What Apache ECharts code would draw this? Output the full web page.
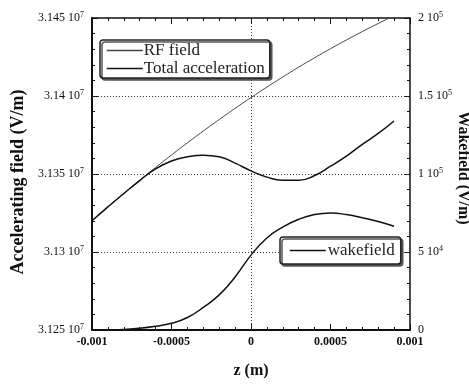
<!DOCTYPE html>
<html>
<head>
<meta charset="utf-8">
<script src="https://cdn.jsdelivr.net/npm/echarts@6/dist/echarts.min.js"></script>
<style>
  html, body { margin: 0; padding: 0; background: #fff; }
  #chart { width: 469px; height: 385px; }
</style>
</head>
<body>
<div id="chart"></div>
<script>
// z positions (m)
const zValues = [-0.001, -0.0009, -0.0008, -0.0007, -0.0006, -0.0005, -0.0004, -0.0003, -0.0002, -0.0001,
  0, 0.0001, 0.0002, 0.0003, 0.0004, 0.0005, 0.0006, 0.0007, 0.0008, 0.0009];

// accelerating field, V/m
const rfField = [3.13200e7, 3.13289e7, 3.13375e7, 3.13460e7, 3.13542e7, 3.13622e7, 3.13700e7, 3.13776e7, 3.13849e7, 3.13921e7,
  3.13990e7, 3.14057e7, 3.14122e7, 3.14185e7, 3.14245e7, 3.14303e7, 3.14359e7, 3.14413e7, 3.14465e7, 3.14515e7];
const totalAcceleration = [3.1320e7, 3.13289e7, 3.13375e7, 3.13458e7, 3.13533e7, 3.13583e7, 3.1361e7, 3.1362e7, 3.1361e7, 3.1357e7,
  3.1352e7, 3.1348e7, 3.1346e7, 3.1346e7, 3.1349e7, 3.1355e7, 3.13615e7, 3.1369e7, 3.1376e7, 3.1384e7];

// wakefield, V/m
const wakefield = [0, 100, 400, 1100, 2400, 4300, 8000, 14500, 22500, 34000,
  48000, 59000, 66000, 71000, 74000, 75000, 74000, 72000, 69500, 66500];

const xTickLabels = ["-0.001", "-0.0005", "0", "0.0005", "0.001"];
const leftTickLabels = [["3.125 10", "7"], ["3.13 10", "7"], ["3.135 10", "7"], ["3.14 10", "7"], ["3.145 10", "7"]];
const rightTickLabels = [["0", ""], ["5 10", "4"], ["1 10", "5"], ["1.5 10", "5"], ["2 10", "5"]];

const serif = "Liberation Serif";
const pair = (xs, ys) => xs.map((x, i) => [x, ys[i]]);

const chart = echarts.init(document.getElementById("chart"));

const sup = (lbl) => lbl[1] ? `{n|${lbl[0]}}{e|${lbl[1]}}` : `{n|${lbl[0]}}`;
const labelRich = {
  n: { fontFamily: serif, fontSize: 12, color: "#111" },
  e: { fontFamily: serif, fontSize: 8, color: "#111", padding: [0, 0, 7, 0] },
};

const axisLine = { show: true, onZero: false, lineStyle: { color: "#111", width: 2 } };
const thinLine = { show: true, onZero: false, lineStyle: { color: "#111", width: 1.5 } };
const tick = { show: true, inside: true, length: 6, lineStyle: { color: "#111", width: 1 } };
const minor = { show: true, splitNumber: 5, length: 3, lineStyle: { color: "#111", width: 1 } };

const legendBox = {
  itemWidth: 36, itemHeight: 10,
  itemStyle: { opacity: 0 },
  lineStyle: { width: 1.5 },
  borderColor: "#222", borderWidth: 1.5, borderRadius: 3,
  backgroundColor: "#fff",
  shadowColor: "#555", shadowOffsetX: 2, shadowOffsetY: 2, shadowBlur: 0,
};

chart.setOption({
  animation: false,
  backgroundColor: "#fff",
  grid: { left: 92, right: 59, top: 18, bottom: 55, outerBoundsMode: "none", containLabel: false },
  legend: [
    {
      ...legendBox,
      data: ["RF field", "Total acceleration"],
      orient: "vertical",
      left: 100, top: 40,
      itemGap: 1,
      padding: [2, 5, 1, 6],
      textStyle: { fontFamily: serif, fontSize: 17, lineHeight: 14, color: "#222", padding: [0, 0, 0, -4] },
    },
    {
      ...legendBox,
      data: ["wakefield"],
      left: 280, top: 237,
      padding: [5, 6, 5, 9],
      textStyle: { fontFamily: serif, fontSize: 17, color: "#222", padding: [0, 0, 0, -3] },
    },
  ],
  xAxis: [
    {
      type: "value", min: -0.001, max: 0.001, interval: 0.0005,
      name: "z (m)", nameLocation: "middle", nameGap: 33,
      nameTextStyle: { fontFamily: serif, fontSize: 16, fontWeight: "bold", color: "#111" },
      axisLine, axisTick: tick, minorTick: minor,
      splitLine: { show: false },
      axisLabel: {
        fontFamily: serif, fontSize: 12, fontWeight: "bold", color: "#111", margin: 6,
        formatter: (v) => xTickLabels[Math.round(v / 0.0005) + 2],
      },
    },
    {
      type: "value", position: "top", min: -0.001, max: 0.001, interval: 0.0005,
      axisLine: thinLine, axisTick: tick, minorTick: minor,
      axisLabel: { show: false }, splitLine: { show: false },
    },
  ],
  yAxis: [
    {
      type: "value", min: 3.125e7, max: 3.145e7, interval: 0.005e7,
      name: "Accelerating field (V/m)", nameLocation: "middle", nameGap: 61,
      nameTextStyle: { fontFamily: serif, fontSize: 18, fontWeight: "bold", color: "#111", padding: [0, 16, 0, 0] },
      axisLine, axisTick: tick, minorTick: minor,
      splitLine: { show: false },
      axisLabel: {
        margin: 8, rich: labelRich,
        formatter: (v) => sup(leftTickLabels[Math.round((v - 3.125e7) / 0.005e7)]),
      },
    },
    {
      type: "value", position: "right", min: 0, max: 2e5, interval: 5e4,
      name: "Wakefield (V/m)", nameLocation: "middle", nameGap: 45, nameRotate: -90,
      nameMoveOverlap: false,
      nameTextStyle: { fontFamily: serif, fontSize: 16, fontWeight: "bold", color: "#111", padding: [0, 12, 0, 0] },
      axisLine: thinLine, axisTick: tick, minorTick: minor,
      splitLine: { show: false },
      axisLabel: {
        margin: 8, rich: labelRich,
        formatter: (v) => sup(rightTickLabels[Math.round(v / 5e4)]),
      },
    },
  ],
  series: [
    {
      name: "RF field", type: "line", yAxisIndex: 0, smooth: true, symbol: "none",
      data: pair(zValues, rfField),
      lineStyle: { color: "#444", width: 1 },
      itemStyle: { color: "#444" },
      markLine: {
        silent: true, symbol: "none", animation: false, z: 1,
        label: { show: false },
        lineStyle: { color: "#333", width: 1, type: [1, 2] },
        data: [{ xAxis: 0 }, { xAxis: 0.0005 }, { yAxis: 3.13e7 }, { yAxis: 3.135e7 }, { yAxis: 3.14e7 }],
      },
    },
    {
      name: "Total acceleration", type: "line", yAxisIndex: 0, smooth: true, symbol: "none",
      data: pair(zValues, totalAcceleration),
      lineStyle: { color: "#111", width: 1.5 },
      itemStyle: { color: "#111" },
    },
    {
      name: "wakefield", type: "line", yAxisIndex: 1, smooth: true, symbol: "none",
      data: pair(zValues, wakefield),
      lineStyle: { color: "#111", width: 1.5 },
      itemStyle: { color: "#111" },
    },
  ],
});
</script>
</body>
</html>
